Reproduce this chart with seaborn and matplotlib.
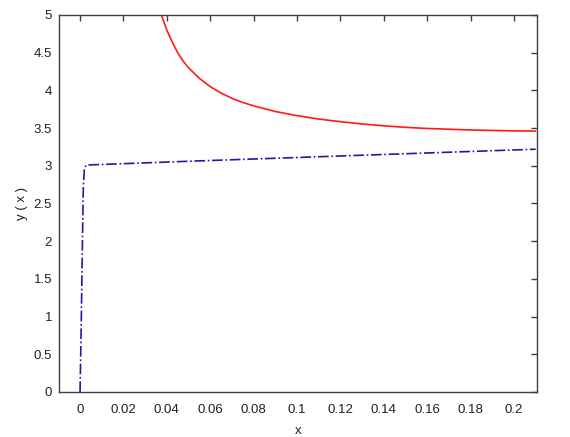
import matplotlib
matplotlib.use("Agg")
import matplotlib.pyplot as plt
import seaborn as sns

# Red curve
red_x = [0.0375, 0.040, 0.0425, 0.045, 0.0475, 0.050, 0.055, 0.060, 0.065, 0.070,
         0.075, 0.080, 0.090, 0.100, 0.110, 0.120, 0.130, 0.140, 0.150, 0.160,
         0.180, 0.200, 0.210]
red_y = [5.00, 4.80, 4.64, 4.50, 4.39, 4.30, 4.16, 4.05, 3.965, 3.895,
         3.84, 3.795, 3.72, 3.665, 3.62, 3.585, 3.555, 3.53, 3.51, 3.495,
         3.475, 3.463, 3.46]

# Blue dash-dot curve
blue_x = [0.0, 0.0005, 0.001, 0.0015, 0.002, 0.003, 0.05, 0.10, 0.15, 0.21]
blue_y = [0.0, 0.80, 1.80, 2.70, 2.97, 3.01, 3.06, 3.11, 3.16, 3.22]

x_ticks = [0, 0.02, 0.04, 0.06, 0.08, 0.1, 0.12, 0.14, 0.16, 0.18, 0.2]
x_tick_labels = ["0", "0.02", "0.04", "0.06", "0.08", "0.1", "0.12", "0.14", "0.16", "0.18", "0.2"]
y_ticks = [0, 0.5, 1, 1.5, 2, 2.5, 3, 3.5, 4, 4.5, 5]
y_tick_labels = ["0", "0.5", "1", "1.5", "2", "2.5", "3", "3.5", "4", "4.5", "5"]

sns.set_style("white")
plt.rcParams['font.family'] = ['Liberation Sans', 'DejaVu Sans']

fig = plt.figure(figsize=(5.7, 4.37), dpi=100)
ax = fig.add_axes([0.1035, 0.103, 0.8385, 0.8627])

sns.lineplot(x=red_x, y=red_y, ax=ax, color="#ff1a1a", linewidth=1.2,
             estimator=None, sort=False)
sns.lineplot(x=blue_x, y=blue_y, ax=ax, color="#1c1c9c", linewidth=1.2,
             linestyle="-.", estimator=None, sort=False)

ax.set_xlim(-0.0097, 0.2106)
ax.set_ylim(0, 5)
ax.set_xticks(x_ticks)
ax.set_xticklabels(x_tick_labels)
ax.set_yticks(y_ticks)
ax.set_yticklabels(y_tick_labels)

ax.tick_params(direction="in", length=4, width=1, color="#404040",
               top=True, right=True, labelsize=9.5, labelcolor="#202020")
ax.tick_params(axis="x", pad=9)
ax.tick_params(axis="y", pad=5)
for s in ax.spines.values():
    s.set_color("#404040")
    s.set_linewidth(1.0)

ax.set_xlabel("x", fontsize=9.5, color="#202020", labelpad=6)
ax.set_ylabel("y ( x )", fontsize=9.5, color="#202020", labelpad=4)

fig.savefig("out.png", dpi=100, facecolor="white")
